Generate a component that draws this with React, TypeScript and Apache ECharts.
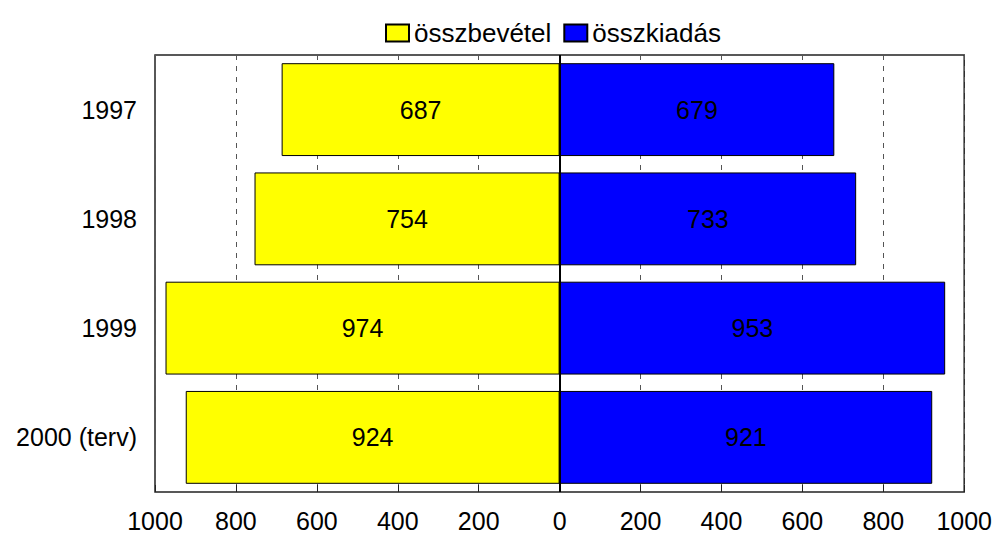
import React, { useEffect, useRef } from "react";
import * as echarts from "echarts";

const categories = ["1997", "1998", "1999", "2000 (terv)"];
const income = [687, 754, 974, 924];
const expense = [679, 733, 953, 921];
const seriesNames = ["összbevétel", "összkiadás"];

export default function App() {
  const ref = useRef<HTMLDivElement>(null);
  useEffect(() => {
    const chart = echarts.init(ref.current!, null, { renderer: "svg" });
    const font = "Liberation Sans, Arial, sans-serif";
    chart.setOption({
      animation: false,
      textStyle: { fontFamily: font },
      legend: {
        top: 15,
        left: 380,
        icon: "rect",
        itemWidth: 23,
        itemHeight: 17,
        itemGap: 12,
        textStyle: { fontSize: 26, color: "#000", fontFamily: font },
        data: seriesNames,
      },
      grid: {
        left: 155,
        right: 29,
        top: 55,
        bottom: 40,
        show: true,
        borderColor: "#222",
        borderWidth: 1.5,
        containLabel: false,
      },
      xAxis: {
        type: "value",
        min: -1000,
        max: 1000,
        interval: 200,
        axisLine: { show: false },
        axisTick: { show: true, inside: true, length: 7, lineStyle: { color: "#222" } },
        axisLabel: {
          fontSize: 25,
          color: "#000",
          margin: 16,
          fontFamily: font,
          formatter: (v: number) => String(Math.abs(v)),
        },
        splitLine: {
          show: true,
          lineStyle: { color: "#555", type: [5, 6], width: 1 },
        },
      },
      yAxis: {
        type: "category",
        data: categories,
        inverse: true,
        axisLine: { show: false },
        axisTick: { show: false },
        axisLabel: { fontSize: 25, color: "#000", margin: 18, fontFamily: font },
        splitLine: { show: false },
      },
      series: [
        {
          name: seriesNames[0],
          type: "bar",
          stack: "total",
          barCategoryGap: "15%",
          data: income.map((v) => -v),
          itemStyle: { color: "#ffff00", borderColor: "#000", borderWidth: 1 },
          label: {
            show: true,
            position: "inside",
            fontSize: 25,
            color: "#000",
            fontFamily: font,
            formatter: (p: any) => String(Math.abs(p.value)),
          },
          markLine: {
            silent: true,
            symbol: "none",
            label: { show: false },
            lineStyle: { color: "#000", type: "solid", width: 2 },
            data: [{ xAxis: 0 }],
          },
          z: 3,
        },
        {
          name: seriesNames[1],
          type: "bar",
          stack: "total",
          barCategoryGap: "15%",
          data: expense,
          itemStyle: { color: "#0000ff", borderColor: "#000", borderWidth: 1 },
          label: {
            show: true,
            position: "inside",
            fontSize: 25,
            color: "#000",
            fontFamily: font,
          },
          z: 3,
        },
      ],
    });
    return () => chart.dispose();
  }, []);
  return <div ref={ref} style={{ width: 995, height: 533, position: "absolute", left: 0, top: 0 }} />;
}
